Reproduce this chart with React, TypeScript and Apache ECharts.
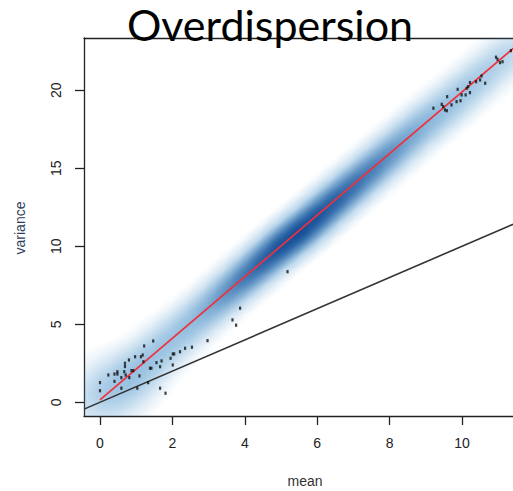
import React, { useEffect, useRef } from "react";
import * as echarts from "echarts";

// ---- data ----
const xTickValues = [0, 2, 4, 6, 8, 10];
const yTickValues = [0, 5, 10, 15, 20];

// density ridge of the smoothed scatter (mean, variance centre, relative density, spread in variance units)
const densMean = [0, 0.5, 1, 1.5, 2, 2.5, 3, 3.5, 4, 4.5, 5, 5.5, 6, 6.5, 7, 7.5, 8, 8.5, 9, 9.5, 10, 10.5, 11, 11.5];
const densVar = [0.4, 1.0, 1.9, 3.0, 4.0, 5.0, 6.0, 7.0, 8.0, 9.0, 10.0, 10.9, 11.9, 12.9, 13.9, 14.9, 15.9, 16.9, 17.9, 18.8, 19.8, 20.8, 21.8, 22.8];
const densLevel = [0.3, 0.33, 0.35, 0.38, 0.42, 0.47, 0.54, 0.63, 0.73, 0.84, 0.95, 1.0, 0.93, 0.85, 0.77, 0.7, 0.63, 0.57, 0.52, 0.47, 0.42, 0.36, 0.3, 0.24];
const densSpread = [3.4, 3.0, 2.7, 2.5, 2.35, 2.25, 2.2, 2.2, 2.2, 2.2, 2.2, 2.2, 2.2, 2.2, 2.2, 2.2, 2.2, 2.2, 2.2, 2.2, 2.2, 2.2, 2.2, 2.2];

// individual low-density points
const outlierMean = [
  0, 0, 0.23, 0.4, 0.4, 0.48, 0.48, 0.59, 0.59, 0.69, 0.69, 0.67, 0.71, 0.8, 0.81, 0.87, 0.92, 0.97,
  1.09, 1.13, 1.18, 1.22, 1.2, 1.38, 1.42, 1.47, 1.56, 1.66, 1.7, 1.66, 1.81, 1.95, 2.01, 2.05, 2.01,
  2.21, 2.35, 2.54, 2.97, 3.66, 3.76, 3.87, 1.03, 1.33, 5.18,
  9.21, 9.44, 9.48, 9.53, 9.58, 9.59, 9.71, 9.85, 9.88, 9.96, 9.99, 10.1, 10.13, 10.17, 10.22, 10.22,
  10.39, 10.5, 10.54, 10.64, 10.94, 10.98, 11.05, 11.12, 11.35,
];
const outlierVar = [
  1.26, 0.74, 1.75, 1.81, 1.34, 1.96, 1.81, 1.58, 0.9, 2.5, 2.29, 1.96, 1.75, 2.71, 1.58, 2.03, 2.03, 2.92,
  1.69, 2.92, 3.03, 3.61, 2.6, 2.18, 2.18, 3.93, 2.54, 2.28, 2.65, 0.9, 0.58, 2.82, 3.1, 3.1, 2.39,
  3.24, 3.46, 3.53, 3.95, 5.28, 4.94, 6.03, 0.9, 1.26, 8.37,
  18.85, 19.1, 18.95, 18.74, 18.69, 19.59, 19.06, 19.27, 20.06, 19.33, 19.7, 19.7, 20.13, 20.23, 19.85, 20.49,
  20.55, 20.66, 20.92, 20.45, 22.12, 21.99, 21.77, 21.83, 22.54,
];

// fitted (red) line and Poisson (black) line end points
const fitMean = [0, 11.45];
const fitVar = [0.15, 22.75];
const poisMean = [-0.44, 12];
const poisVar = [-0.44, 12];

const densData = densMean.map((m, i) => [m, densVar[i], densLevel[i], densSpread[i]]);
const pointData = outlierMean.map((m, i) => [m, outlierVar[i]]);
const fitData = fitMean.map((m, i) => [m, fitVar[i]]);
const poisData = poisMean.map((m, i) => [m, poisVar[i]]);

const gaussStops = (rgb: string, a: number) =>
  [
    [0, 1],
    [0.2, 0.88],
    [0.4, 0.61],
    [0.6, 0.32],
    [0.8, 0.13],
    [1, 0],
  ].map(([o, p]) => ({ offset: o, color: `rgba(${rgb},${(a * p).toFixed(3)})` }));

const makeRender = (layer: "light" | "dark") => (params: any, api: any) => {
  const i = params.dataIndex;
  const m = api.value(0);
  const v = api.value(1);
  const lvl = api.value(2);
  const sp = api.value(3);
  const c = api.coord([m, v]);
  const j0 = Math.max(0, i - 1);
  const j1 = Math.min(densMean.length - 1, i + 1);
  const p0 = api.coord([densMean[j0], densVar[j0]]);
  const p1 = api.coord([densMean[j1], densVar[j1]]);
  const angle = Math.atan2(p0[1] - p1[1], p1[0] - p0[0]);
  const rr = Math.abs(api.size([0, sp])[1]);
  let r: number, a: number, rgb: string, stretch: number;
  if (layer === "light") {
    r = rr;
    a = Math.min(0.9, 0.06 + 0.62 * lvl);
    rgb = "58,138,198";
    stretch = 1.3;
  } else {
    r = rr * 0.6;
    a = Math.max(0, (lvl - 0.5) * 1.5);
    rgb = "8,62,138";
    stretch = 1.9;
  }
  if (a <= 0) return null;
  return {
    type: "circle",
    x: c[0],
    y: c[1],
    rotation: angle,
    scaleX: stretch,
    shape: { cx: 0, cy: 0, r },
    style: {
      fill: { type: "radial", x: 0.5, y: 0.5, r: 0.5, colorStops: gaussStops(rgb, a) },
    },
  };
};

export default function App() {
  const ref = useRef<HTMLDivElement>(null);
  useEffect(() => {
    if (!ref.current) return;
    const chart = echarts.init(ref.current, undefined, { renderer: "svg" });
    const tickFont = { fontFamily: "Liberation Sans", fontSize: 14, color: "#222" };
    const axisLineStyle = { color: "#222", width: 1.3 };
    chart.setOption({
      animation: false,
      backgroundColor: "#fff",
      grid: {
        left: 84,
        top: 38,
        height: 378,
        right: 0,
        show: false,
      },
      xAxis: [
        {
          type: "value",
          min: -0.442,
          max: 11.409,
          axisLine: { show: true, onZero: false, lineStyle: axisLineStyle },
          axisTick: { show: true, length: 9, customValues: xTickValues, lineStyle: axisLineStyle },
          axisLabel: { ...tickFont, margin: 20, customValues: xTickValues },
          splitLine: { show: false },
        },
        {
          type: "value",
          position: "top",
          min: -0.442,
          max: 11.409,
          axisLine: { show: true, onZero: false, lineStyle: axisLineStyle },
          axisTick: { show: false },
          axisLabel: { show: false },
          splitLine: { show: false },
        },
      ],
      yAxis: {
        type: "value",
        min: -0.88,
        max: 23.35,
        axisLine: { show: true, onZero: false, lineStyle: axisLineStyle },
        axisTick: { show: true, length: 9, customValues: yTickValues, lineStyle: axisLineStyle },
        axisLabel: { ...tickFont, margin: 21, rotate: 90, customValues: yTickValues },
        splitLine: { show: false },
      },
      graphic: [
        {
          type: "text",
          x: 270,
          y: 24,
          style: {
            text: "Overdispersion",
            font: "43px Lato",
            lineHeight: 34,
            fill: "#000",
            textAlign: "center",
            textVerticalAlign: "middle",
          },
          z: 100,
        },
        {
          type: "text",
          x: 305,
          y: 481,
          style: {
            text: "mean",
            font: "14px 'Liberation Sans'",
            fill: "#333",
            textAlign: "center",
            textVerticalAlign: "middle",
          },
        },
        {
          type: "text",
          x: 20,
          y: 228,
          rotation: Math.PI / 2,
          style: {
            text: "variance",
            font: "14px 'Liberation Sans'",
            fill: "#2e3d5c",
            textAlign: "center",
            textVerticalAlign: "middle",
          },
        },
      ],
      series: [
        {
          type: "custom",
          clip: true,
          renderItem: makeRender("light"),
          data: densData,
          encode: { x: 0, y: 1 },
          silent: true,
          z: 1,
        },
        {
          type: "custom",
          clip: true,
          renderItem: makeRender("dark"),
          data: densData,
          encode: { x: 0, y: 1 },
          silent: true,
          z: 2,
        },
        {
          type: "line",
          data: poisData,
          symbol: "none",
          lineStyle: { color: "#333", width: 1.6 },
          clip: true,
          z: 3,
        },
        {
          type: "line",
          data: fitData,
          symbol: "none",
          lineStyle: { color: "#f0303c", width: 1.7 },
          clip: true,
          z: 4,
        },
        {
          type: "scatter",
          data: pointData,
          symbol: "rect",
          symbolSize: [2.2, 3.2],
          itemStyle: { color: "#111" },
          clip: true,
          z: 5,
        },
      ],
    });
    return () => chart.dispose();
  }, []);
  return (
    <div
      ref={ref}
      style={{ position: "fixed", left: 0, top: 0, width: 513, height: 491, background: "#fff" }}
    />
  );
}
